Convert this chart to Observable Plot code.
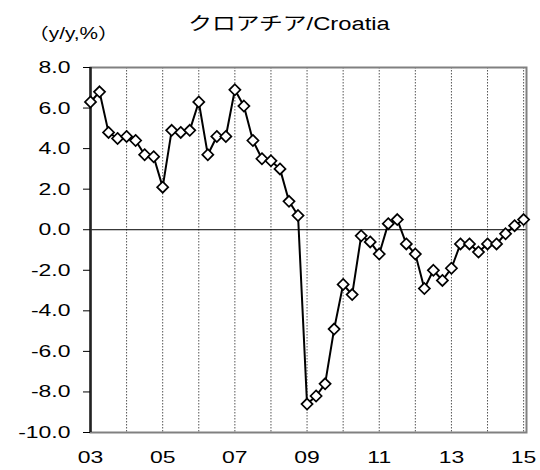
<!DOCTYPE html>
<html>
<head>
<meta charset="utf-8">
<script src="https://cdn.jsdelivr.net/npm/d3@7"></script>
<script src="https://cdn.jsdelivr.net/npm/@observablehq/plot@0.6"></script>
<style>
  html, body { margin: 0; padding: 0; background: #fff; }
  #wrap { position: relative; width: 540px; height: 470px; font-family: "Liberation Sans", Arial, sans-serif; }
  #title { position: absolute; left: 289px; top: 9px; font-size: 18px; white-space: nowrap;
           transform: translateX(-50%) scaleX(1.32); font-family: "Liberation Sans", "Noto Sans CJK JP", sans-serif; }
  #unit { position: absolute; left: 28px; top: 20px; font-size: 16px; white-space: nowrap;
          transform-origin: left center; transform: scaleX(1.3); font-family: "Liberation Sans", "Noto Sans CJK JP", sans-serif; }
  #chart { position: absolute; left: 0; top: 0; }
</style>
</head>
<body>
<div id="wrap">
  <div id="chart"></div>
  <div id="title">クロアチア/Croatia</div>
  <div id="unit">（y/y,%）</div>
</div>
<script>
// Quarterly real GDP growth, y/y %, 2003Q1 – 2015Q1
const startYear = 2003;
const values = [
  6.3, 6.8, 4.8, 4.5,     // 2003
  4.6, 4.4, 3.7, 3.6,     // 2004
  2.1, 4.9, 4.8, 4.9,     // 2005
  6.3, 3.7, 4.6, 4.6,     // 2006
  6.9, 6.1, 4.4, 3.5,     // 2007
  3.4, 3.0, 1.4, 0.7,     // 2008
  -8.6, -8.2, -7.6, -4.9, // 2009
  -2.7, -3.2, -0.3, -0.6, // 2010
  -1.2, 0.3, 0.5, -0.7,   // 2011
  -1.2, -2.9, -2.0, -2.5, // 2012
  -1.9, -0.7, -0.7, -1.1, // 2013
  -0.7, -0.7, -0.2, 0.2,  // 2014
  0.5                     // 2015
];
const yTicks = [-10, -8, -6, -4, -2, 0, 2, 4, 6, 8];
const xLabelYears = [2003, 2005, 2007, 2009, 2011, 2013, 2015];
const gridYears = [2004, 2005, 2006, 2007, 2008, 2009, 2010, 2011, 2012, 2013, 2014, 2015];

const data = values.map((v, i) => ({t: startYear + i / 4, v}));

const chart = Plot.plot({
  width: 540,
  height: 470,
  marginLeft: 90,
  marginRight: 14,
  marginTop: 67,
  marginBottom: 38,
  style: {fontFamily: "'Liberation Sans', Arial, sans-serif", fontSize: "17px", background: "white", color: "black"},
  x: {domain: [2003, 2015.08]},
  y: {domain: [-10, 8]},
  marks: [
    Plot.ruleX(gridYears, {stroke: "#555", strokeWidth: 1, strokeDasharray: "1.5,1.5", strokeOpacity: 1}),
    Plot.ruleY([0], {stroke: "black", strokeWidth: 1}),
    Plot.frame({stroke: "#808080", strokeWidth: 2}),
    Plot.ruleX([2003], {stroke: "#222", strokeWidth: 2.5}),
    Plot.axisY({ticks: yTicks, tickSize: 7, tickPadding: 13, tickFormat: d => d.toFixed(1), label: null}),
    Plot.axisX({ticks: xLabelYears, tickSize: 0, tickPadding: 18, tickFormat: d => String(d % 100).padStart(2, "0"), label: null}),
    Plot.line(data, {x: "t", y: "v", stroke: "black", strokeWidth: 2}),
    Plot.dot(data, {x: "t", y: "v", symbol: "diamond2", r: 5, fill: "white", stroke: "black", strokeWidth: 1.7})
  ]
});

// Horizontal stretch of tick labels, as in the reference
chart.querySelectorAll("text").forEach(t => {
  const tr = t.getAttribute("transform");
  if (tr) {
    t.setAttribute("transform", tr + " scale(1.35,1)");
  } else {
    const x = +(t.getAttribute("x") || 0), y = +(t.getAttribute("y") || 0);
    t.removeAttribute("x"); t.removeAttribute("y");
    t.setAttribute("transform", `translate(${x},${y}) scale(1.35,1)`);
  }
});

document.getElementById("chart").appendChild(chart);
</script>
</body>
</html>
